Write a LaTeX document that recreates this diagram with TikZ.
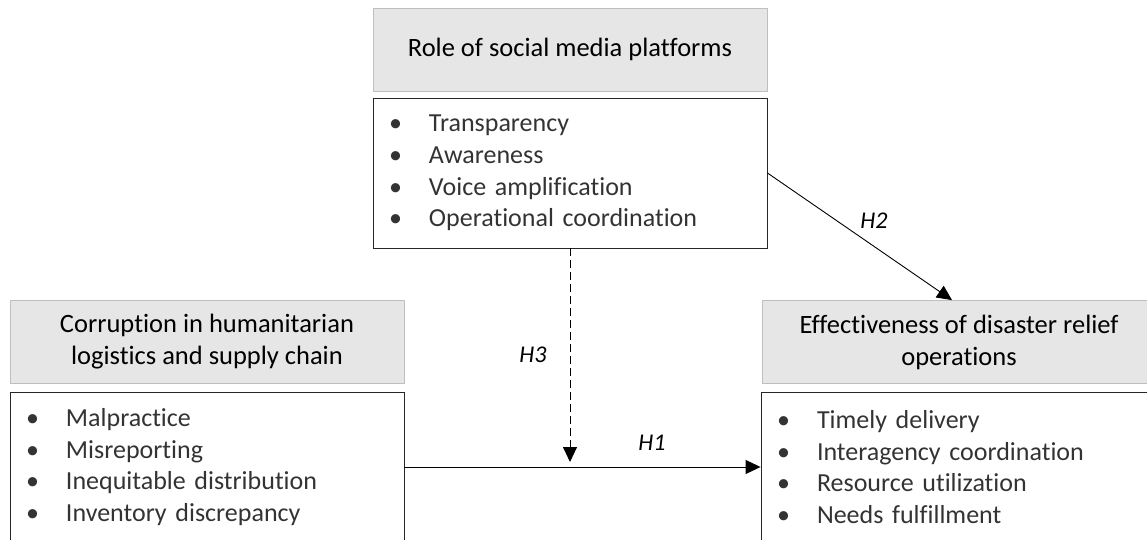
\documentclass[tikz,border=0pt]{standalone}
\usepackage{fontspec}
\setmainfont{Carlito}[Ligatures=CommonOff]
\usepackage{xcolor}
\usetikzlibrary{arrows.meta, positioning}

\definecolor{headfill}{RGB}{231,230,230}
\definecolor{headline}{RGB}{191,191,191}
\newcommand{\diem}[1]{\makebox[40pt][l]{\textbullet}#1}

\begin{document}
\begin{tikzpicture}[x=1pt, y=-1pt, >={Triangle[length=15pt,width=14pt]}, line width=0.9pt,
    headbox/.style={draw=headline, fill=headfill, line width=0.8pt, minimum width=394pt,
        minimum height=83pt, inner sep=0pt, align=center, font=\fontsize{26.5}{32}\selectfont},
    listbox/.style={draw=black!85, line width=0.9pt, minimum height=150pt, inner xsep=16pt,
        text width=362pt, align=left, font=\fontsize{26}{31.7}\selectfont\color{black!80}},
    hlabel/.style={inner sep=2pt, font=\fontsize{24}{28}\selectfont\itshape}]
    \useasboundingbox (0,0) rectangle (1147,540);

    % Vẽ khung vai trò mạng xã hội
    \node[headbox] (rolehead) at (570,49.5) {Role of social media platforms};
    \node[listbox] (rolelist) at (570,173) {\diem{Transparency}\\ \diem{Awareness}\\
        \diem{Voice amplification}\\ \diem{Operational coordination}};

    % Vẽ khung tham nhũng
    \node[headbox] (corrhead) at (207,342) {Corruption in humanitarian\\ logistics and supply chain};
    \node[listbox] (corrlist) at (207,467) {\diem{Malpractice}\\ \diem{Misreporting}\\
        \diem{Inequitable distribution}\\ \diem{Inventory discrepancy}};

    % Vẽ khung hiệu quả cứu trợ
    \node[headbox] (effhead) at (959,342) {Effectiveness of disaster relief\\ operations};
    \node[listbox] (efflist) at (958,467) {\diem{Timely delivery}\\ \diem{Interagency coordination}\\
        \diem{Resource utilization}\\ \diem{Needs fulfillment}};

    % Các mũi tên giả thuyết
    \coordinate (h3end) at (rolelist.south |- corrlist.east);
    \draw[->] (corrlist.east) -- (efflist.west);
    \draw[->] (rolelist.east) -- ([xshift=-7pt]effhead.north);
    \draw[->, dash pattern=on 8pt off 4pt, shorten >=5pt] (rolelist.south) -- (h3end);

    % Nhãn H1, H2, H3
    \node[hlabel] (lblh1) at (652,443) {H1};
    \node[hlabel] (lblh2) at (874,221) {H2};
    \node[hlabel] (lblh3) at (533,355) {H3};
\end{tikzpicture}
\end{document}
